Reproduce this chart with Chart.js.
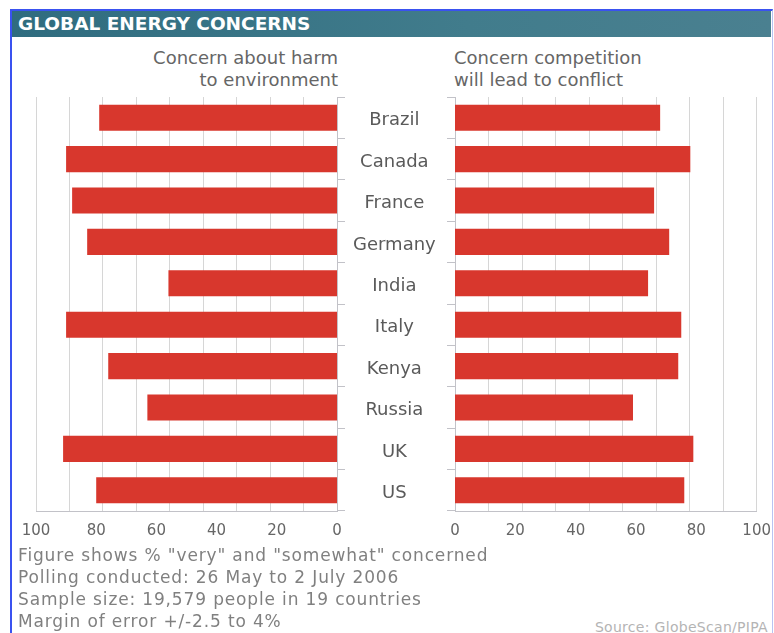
<!DOCTYPE html>
<html>
<head>
<meta charset="utf-8">
<script src="https://cdn.jsdelivr.net/npm/chart.js@4"></script>
<style>
  body { margin: 0; background: #fff; width: 774px; height: 633px; overflow: hidden; position: relative; font-family: "DejaVu Sans", sans-serif; }
  #frame { position: absolute; left: 10px; top: 9px; width: 760px; height: 640px; border-left: 2px solid #3a52f0; border-top: 2px solid #3a52f0; border-right: 1px solid #b9c3f2; }
  #head { position: absolute; left: 12px; top: 11px; width: 759px; height: 26px; background: linear-gradient(to right, #2f6c7f, #417c8c 60%, #4a8090); color: #fff; font: bold 18.5px "DejaVu Sans"; line-height: 26px; padding-left: 6px; box-sizing: border-box; }
  .sub { position: absolute; top: 47px; font-size: 18px; line-height: 22px; color: #666; }
  canvas { position: absolute; top: 0; }
  #foot { position: absolute; left: 18px; top: 544px; font-size: 17px; letter-spacing: 0.85px; line-height: 22px; color: #808080; }
  #src { position: absolute; right: 6px; top: 619px; font-size: 14px; letter-spacing: 0.3px; line-height: 16px; color: #b4b4b4; }
</style>
</head>
<body>
<div id="frame"></div>
<div id="head">GLOBAL ENERGY CONCERNS</div>
<div class="sub" style="left:0;width:338px;text-align:right">Concern about harm<br>to environment</div>
<div class="sub" style="left:454px">Concern competition<br>will lead to conflict</div>
<canvas id="left" width="455" height="545" style="left:0"></canvas>
<canvas id="right" width="327" height="545" style="left:447px"></canvas>
<div id="foot">Figure shows % "very" and "somewhat" concerned<br>Polling conducted: 26 May to 2 July 2006<br>Sample size: 19,579 people in 19 countries<br>Margin of error +/-2.5 to 4%</div>
<div id="src">Source: GlobeScan/PIPA</div>
<script>
const countries = ['Brazil','Canada','France','Germany','India','Italy','Kenya','Russia','UK','US'];
const environment = [79, 90, 88, 83, 56, 90, 76, 63, 91, 80];
const conflict = [68, 78, 66, 71, 64, 75, 74, 59, 79, 76];
const xTicks = [0, 20, 40, 60, 80, 100];

const red = '#d8372d';
const gridCol = '#d6d6d6';
const axisCol = '#c2c2c8';

function makeScales(isLeft){
    return {
        x: {
            min: 0, max: 100, reverse: isLeft, position: 'bottom',
            grid: { display: false },
            border: { color: axisCol },
            afterBuildTicks: function(s){ s.ticks = xTicks.map(v => ({ value: v })); },
            afterFit: function(s){ s.height = 34; },
            ticks: { color: '#666', padding: 3, font: { family: 'DejaVu Sans', size: 15 } }
        },
        // light grid, drawn in 9 equal steps like the original
        g: {
            axis: 'x', type: 'linear', min: 0, max: 100, reverse: isLeft, position: 'top',
            ticks: { display: false, count: 10 },
            grid: { color: gridCol, drawTicks: false },
            border: { display: false },
            afterFit: function(s){ s.height = 0; }
        },
        y: {
            position: isLeft ? 'right' : 'left',
            grid: { offset: true, drawOnChartArea: false, tickLength: 8, color: axisCol },
            border: { color: axisCol },
            afterFit: function(s){ s.width = isLeft ? 118 : 8; },
            ticks: {
                display: isLeft, crossAlign: 'center', padding: 8, labelOffset: 3, color: '#5a5a5a',
                font: { family: 'DejaVu Sans', size: 18 }
            }
        }
    };
}

function makeChart(id, values, isLeft){
    return new Chart(document.getElementById(id), {
        type: 'bar',
        data: {
            labels: countries,
            datasets: [{ data: values, backgroundColor: red, barPercentage: 0.63, categoryPercentage: 1 }]
        },
        options: {
            indexAxis: 'y',
            responsive: false,
            animation: false,
            layout: { padding: isLeft ? { left: 36, right: 0, top: 97, bottom: 0 } : { left: 0, right: 16, top: 97, bottom: 0 } },
            plugins: { legend: { display: false }, tooltip: { enabled: false } },
            scales: makeScales(isLeft)
        }
    });
}

const leftChart = makeChart('left', environment, true);
const rightChart = makeChart('right', conflict, false);
</script>
</body>
</html>
